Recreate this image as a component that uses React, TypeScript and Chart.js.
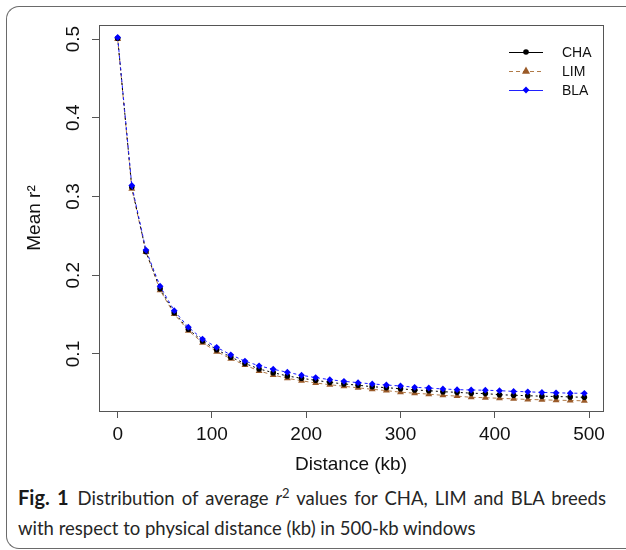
import React, { useEffect, useRef } from 'react';
import { Chart, registerables } from 'chart.js';

Chart.register(...registerables);

const distanceKb = [0, 15, 30, 45, 60, 75, 90, 105, 120, 135, 150, 165, 180, 195, 210, 225, 240, 255, 270, 285, 300, 315, 330, 345, 360, 375, 390, 405, 420, 435, 450, 465, 480, 495];
const chaR2 = [0.501, 0.312, 0.230, 0.183, 0.1525, 0.1315, 0.1165, 0.1055, 0.096, 0.088, 0.081, 0.0763, 0.0721, 0.0691, 0.0666, 0.064, 0.062, 0.0603, 0.0585, 0.0572, 0.0559, 0.0543, 0.0534, 0.0521, 0.0513, 0.0502, 0.0497, 0.0483, 0.0476, 0.047, 0.0464, 0.046, 0.0455, 0.045];
const limR2 = [0.500, 0.310, 0.2295, 0.181, 0.1508, 0.1296, 0.1144, 0.103, 0.094, 0.086, 0.0784, 0.0733, 0.0691, 0.066, 0.0632, 0.061, 0.059, 0.057, 0.0552, 0.0535, 0.0515, 0.0502, 0.049, 0.0475, 0.0465, 0.045, 0.0445, 0.0437, 0.043, 0.0423, 0.0418, 0.0413, 0.041, 0.0405];
const blaR2 = [0.502, 0.314, 0.232, 0.186, 0.155, 0.134, 0.119, 0.1085, 0.099, 0.091, 0.085, 0.0806, 0.0768, 0.073, 0.070, 0.0674, 0.0653, 0.0636, 0.062, 0.0606, 0.0594, 0.0577, 0.0568, 0.0556, 0.0547, 0.0543, 0.054, 0.0534, 0.0525, 0.052, 0.0512, 0.0507, 0.0503, 0.050];
const seriesNames = ['CHA', 'LIM', 'BLA'];
const xTickValues = [0, 100, 200, 300, 400, 500];
const yTickValues = [0.1, 0.2, 0.3, 0.4, 0.5];
const yTickLabels = ['0.1', '0.2', '0.3', '0.4', '0.5'];
const xTitle = 'Distance (kb)';
const yTitle = 'Mean r²';

const AXIS_FONT = '19px "Liberation Sans", Arial, sans-serif';
const LEGEND_FONT = '14px "Liberation Sans", Arial, sans-serif';

const styles = [
  { color: '#000000', line: '#000000', dash: [2, 3], point: 'circle', radius: 2.8 },
  { color: '#9A5A28', line: '#B07A48', dash: [4, 3], point: 'triangle', radius: 4 },
  { color: '#0000FF', line: '#2020FF', dash: [3, 3], point: 'rectRot', radius: 3.4 },
];
const legendDash = [[], [4, 3], []];

function drawMarker(ctx: CanvasRenderingContext2D, kind: string, x: number, y: number, r: number, color: string) {
  ctx.fillStyle = color;
  ctx.beginPath();
  if (kind === 'circle') {
    ctx.arc(x, y, r, 0, Math.PI * 2);
  } else if (kind === 'triangle') {
    ctx.moveTo(x, y - r * 1.1);
    ctx.lineTo(x + r, y + r * 0.7);
    ctx.lineTo(x - r, y + r * 0.7);
    ctx.closePath();
  } else {
    ctx.moveTo(x, y - r);
    ctx.lineTo(x + r, y);
    ctx.lineTo(x, y + r);
    ctx.lineTo(x - r, y);
    ctx.closePath();
  }
  ctx.fill();
}

const decorPlugin = {
  id: 'decor',
  afterDraw(chart: any) {
    const ctx: CanvasRenderingContext2D = chart.ctx;
    const { left, right, top, bottom } = chart.chartArea;
    const xs = chart.scales.x;
    const ys = chart.scales.y;
    ctx.save();
    ctx.strokeStyle = '#555555';
    ctx.lineWidth = 1;
    ctx.setLineDash([]);
    ctx.strokeRect(Math.round(left) + 0.5, Math.round(top) + 0.5, Math.round(right - left), Math.round(bottom - top));

    ctx.fillStyle = '#111111';
    ctx.font = AXIS_FONT;
    ctx.textAlign = 'center';
    ctx.textBaseline = 'middle';
    xTickValues.forEach((v) => {
      ctx.fillText(String(v), xs.getPixelForValue(v), bottom + 24);
    });
    yTickValues.forEach((v, i) => {
      const py = ys.getPixelForValue(v);
      ctx.save();
      ctx.translate(left - 25, py);
      ctx.rotate(-Math.PI / 2);
      ctx.textAlign = 'center';
      ctx.textBaseline = 'middle';
      ctx.fillText(yTickLabels[i], 0, 0);
      ctx.restore();
    });
    ctx.textAlign = 'center';
    ctx.textBaseline = 'middle';
    ctx.fillText(xTitle, (left + right) / 2, bottom + 54);
    ctx.save();
    ctx.translate(left - 64, (top + bottom) / 2);
    ctx.rotate(-Math.PI / 2);
    ctx.fillText(yTitle, 0, 0);
    ctx.restore();

    ctx.font = LEGEND_FONT;
    ctx.textAlign = 'left';
    ctx.textBaseline = 'middle';
    const lx0 = right - 94;
    const lx1 = right - 60;
    const ly = top + 27;
    seriesNames.forEach((name, i) => {
      const y = ly + i * 19;
      ctx.strokeStyle = styles[i].line;
      ctx.lineWidth = 1;
      ctx.setLineDash(legendDash[i]);
      ctx.beginPath();
      ctx.moveTo(lx0, y + 0.5);
      ctx.lineTo(lx1, y + 0.5);
      ctx.stroke();
      ctx.setLineDash([]);
      drawMarker(ctx, styles[i].point, (lx0 + lx1) / 2, y, styles[i].radius, styles[i].color);
      ctx.fillStyle = '#111111';
      ctx.fillText(name, right - 41, y + 1);
    });
    ctx.restore();
  },
};

export default function App() {
  const canvasRef = useRef<HTMLCanvasElement | null>(null);

  useEffect(() => {
    const canvas = canvasRef.current;
    if (!canvas) return;
    const seriesValues = [chaR2, limR2, blaR2];
    const chart = new Chart(canvas, {
      type: 'line',
      data: {
        datasets: seriesNames.map((name, i) => ({
          label: name,
          data: distanceKb.map((d, j) => ({ x: d, y: seriesValues[i][j] })),
          borderColor: styles[i].line,
          backgroundColor: styles[i].color,
          pointBackgroundColor: styles[i].color,
          pointBorderColor: styles[i].color,
          pointBorderWidth: 0,
          borderWidth: 1,
          borderDash: styles[i].dash,
          pointStyle: styles[i].point as any,
          pointRadius: styles[i].radius,
          tension: 0,
          fill: false,
          order: i === 2 ? 0 : i === 0 ? 1 : 2,
        })),
      },
      options: {
        animation: false,
        responsive: false,
        maintainAspectRatio: false,
        layout: { padding: { left: 0, top: 25, right: 23, bottom: 0 } },
        plugins: { legend: { display: false }, tooltip: { enabled: false } },
        scales: {
          x: {
            type: 'linear',
            min: -19.8,
            max: 514.8,
            afterFit: (s: any) => { s.height = 69; },
            afterBuildTicks: (s: any) => { s.ticks = xTickValues.map((v) => ({ value: v })); },
            grid: { drawOnChartArea: false, drawTicks: true, tickLength: 7, color: '#555555', lineWidth: 1 },
            border: { display: true, color: '#555555' },
            ticks: { display: false },
          },
          y: {
            type: 'linear',
            min: 0.0276,
            max: 0.5178,
            afterFit: (s: any) => { s.width = 99; },
            afterBuildTicks: (s: any) => { s.ticks = yTickValues.map((v) => ({ value: v })); },
            grid: { drawOnChartArea: false, drawTicks: true, tickLength: 7, color: '#555555', lineWidth: 1 },
            border: { display: true, color: '#555555' },
            ticks: { display: false },
          },
        },
      },
      plugins: [decorPlugin],
    });
    return () => chart.destroy();
  }, []);

  return (
    <div style={{ position: 'fixed', left: 0, top: 0, width: 626, height: 550, overflow: 'hidden', background: '#ffffff' }}>
      <div
        style={{
          position: 'absolute', left: 6, top: 6, width: 700, height: 541,
          borderLeft: '1.5px solid #6a6a6a', borderTop: '1.5px solid #6a6a6a', borderBottom: '1.5px solid #6a6a6a',
          borderTopLeftRadius: 13, borderBottomLeftRadius: 13,
        }}
      />
      <canvas ref={canvasRef} width={626} height={480} style={{ position: 'absolute', left: 0, top: 0, width: 626, height: 480 }} />
      <div
        style={{
          position: 'absolute', left: 18, top: 482, width: 588,
          fontFamily: 'Lato, "Open Sans", sans-serif', fontSize: 18.5, lineHeight: '30px', color: '#262626',
        }}
      >
        <div style={{ textAlign: 'justify', textAlignLast: 'justify', whiteSpace: 'normal', width: 588 } as any}>
          <span style={{ fontWeight: 700, fontSize: 20, color: '#1a1a1a' }}>Fig. 1</span>
          <span style={{ marginLeft: 9 }}>Distribution of average </span>
          <span style={{ fontStyle: 'italic' }}>r</span>
          <sup style={{ fontSize: 13, lineHeight: 0, verticalAlign: 7 }}>2</sup>
          <span> values for CHA, LIM and BLA breeds</span>
        </div>
        <div style={{ whiteSpace: 'nowrap' }}>with respect to physical distance (kb) in 500-kb windows</div>
      </div>
    </div>
  );
}
